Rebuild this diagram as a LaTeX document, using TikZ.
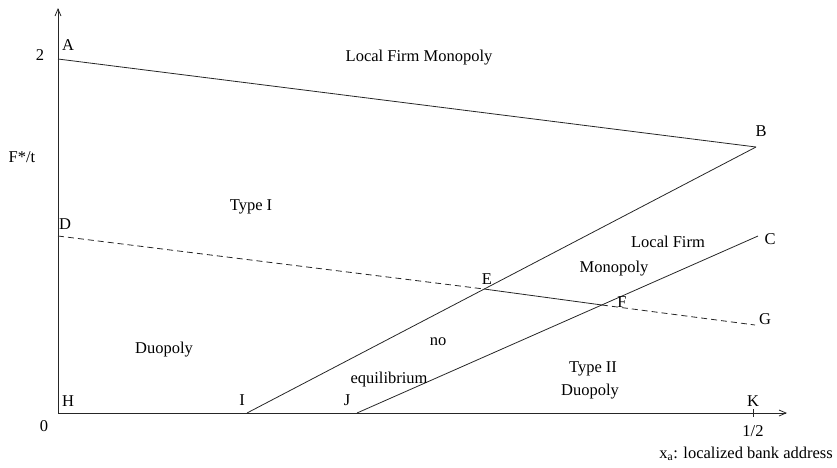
\documentclass[tikz,border=0pt]{standalone}
\usepackage{fontspec}
\setmainfont{Liberation Serif}
\usetikzlibrary{arrows.meta}
\begin{document}
\begin{tikzpicture}[x=1pt,y=-1pt,
  lbl/.style={font=\fontsize{16.5}{18}\selectfont, inner sep=0pt},
  curve/.style={line width=0.8pt, draw=black!85},
  dashcurve/.style={curve, dash pattern=on 6pt off 4pt},
  axis/.style={line width=0.8pt, draw=black!85, -{Straight Barb[length=7pt,width=6pt]}}]
\useasboundingbox (0,0) rectangle (837,467);
% points
\coordinate (O) at (58,413);
\coordinate (Ytop) at (58,8);
\coordinate (Xend) at (787,413);
\coordinate (A) at (58,59);
\coordinate (B) at (756,147);
\coordinate (C) at (758,236);
\coordinate (D) at (58,236);
\coordinate (E) at (484,289);
\coordinate (F) at (602,305);
\coordinate (G) at (755,325);
\coordinate (I) at (247,413);
\coordinate (J) at (357,413);
\coordinate (Kt) at (753,409);
\coordinate (Kb) at (753,417);
% axes
\draw[axis] (O) -- (Ytop);
\draw[axis] (O) -- (Xend);
\draw[curve] (Kt) -- (Kb);
% curves
\draw[curve] (A) -- (B);
\draw[curve] (I) -- (B);
\draw[curve] (J) -- (C);
\draw[dashcurve] (D) -- (E);
\draw[curve] (E) -- (F);
\draw[dashcurve] (F) -- (G);
% labels
\node[lbl] (l2) at (40,55) {2};
\node[lbl] (lA) at (68,45) {A};
\node[lbl] (lB) at (761,131) {B};
\node[lbl] (lC) at (770,239) {C};
\node[lbl] (lD) at (65,224) {D};
\node[lbl] (lE) at (487,279) {E};
\node[lbl] (lF) at (622,302) {F};
\node[lbl] (lG) at (765,319) {G};
\node[lbl] (lH) at (68,401) {H};
\node[lbl] (lI) at (242,400) {I};
\node[lbl] (lJ) at (347,400) {J};
\node[lbl] (lK) at (753,401) {K};
\node[lbl] (l0) at (44,426) {0};
\node[lbl] (lhalf) at (753,431) {1/2};
\node[lbl, anchor=east] (lxa) at (833,454) {x\textsubscript{a}: localized bank address};
\node[lbl] (lFt) at (22,157) {F*/t};
\node[lbl] (t1) at (419,58) {Local Firm Monopoly};
\node[lbl] (t2) at (251,207) {Type I};
\node[lbl] (t3) at (668,242) {Local Firm};
\node[lbl] (t4) at (614,269) {Monopoly};
\node[lbl] (t5) at (438,342) {no};
\node[lbl] (t6) at (389,380) {equilibrium};
\node[lbl] (t7) at (164,350) {Duopoly};
\node[lbl] (t8) at (593,369) {Type II};
\node[lbl] (t9) at (590,392) {Duopoly};
\end{tikzpicture}
\end{document}
